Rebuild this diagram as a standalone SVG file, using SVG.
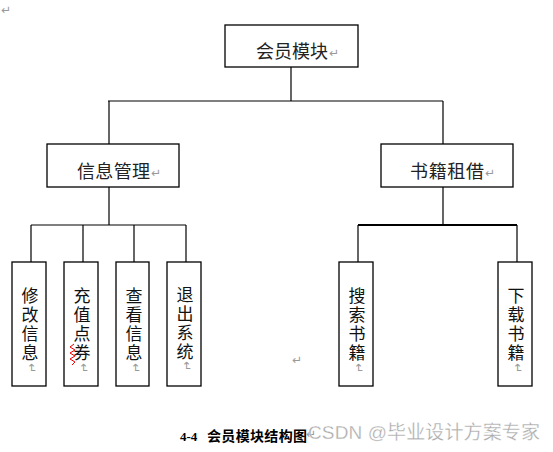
<svg xmlns="http://www.w3.org/2000/svg" width="553" height="452" viewBox="0 0 553 452">
<style>
.box{fill:#fff;stroke:#000;stroke-width:1.3}
.t{font-family:"Noto Sans CJK SC","Noto Sans CJK JP",sans-serif;font-size:17px;fill:#111;writing-mode:vertical-rl;letter-spacing:2px}
.h{font-family:"Noto Sans CJK SC","Noto Sans CJK JP",sans-serif;font-size:18px;fill:#222}
.ret{font-family:"DejaVu Sans",sans-serif;font-size:12px;fill:#999}
.ln{stroke:#000;stroke-width:1.2;fill:none}
</style>
<rect width="553" height="452" fill="#fff"/>
<text class="ret" x="1" y="14">↵</text>
<text class="ret" x="292" y="364">↵</text>

<g id="connectors">
<path class="ln" d="M291 67V101M108 101H443M109 101V144M443 101V144"/>
<path class="ln" d="M109 187V225M31 225H186M31 225V262M83 225V262M134 225V262M186 225V262"/>
<path class="ln" d="M443 187V225M358 262V225M517 225V262"/>
<path d="M358 225H517" stroke="#000" stroke-width="2"/>
</g>

<g id="root">
<rect class="box" x="225" y="25" width="133" height="42"/>
<text class="h" x="256" y="58" textLength="72">会员模块</text>
<text class="ret" x="329" y="57">↵</text>
</g>

<g id="info">
<rect class="box" x="47" y="144" width="132" height="43"/>
<text class="h" x="77" y="178" textLength="73">信息管理</text>
<text class="ret" x="151" y="177">↵</text>
</g>

<g id="book">
<rect class="box" x="381" y="144" width="132" height="43"/>
<text class="h" x="410" y="178" textLength="74">书籍租借</text>
<text class="ret" x="485" y="177">↵</text>
</g>

<g id="leaf1">
<rect class="box" x="12" y="262" width="34" height="124"/>
<text class="t" x="30" y="287">修改信息</text>
<text class="ret" transform="translate(28,363) rotate(90)">↵</text>
</g>

<g id="leaf2">
<rect class="box" x="64" y="262" width="34" height="124"/>
<text class="t" x="82" y="287">充值点券</text>
<polyline points="74,344 70,347 75,350 70,353 75,356 70,359 75,362 72,365" fill="none" stroke="#e00" stroke-width="1"/>
<text class="ret" transform="translate(80,363) rotate(90)">↵</text>
</g>

<g id="leaf3">
<rect class="box" x="116" y="262" width="33" height="124"/>
<text class="t" x="134" y="287">查看信息</text>
<text class="ret" transform="translate(132,363) rotate(90)">↵</text>
</g>

<g id="leaf4">
<rect class="box" x="167" y="262" width="34" height="124"/>
<text class="t" x="185" y="286">退出系统</text>
<text class="ret" transform="translate(183,361) rotate(90)">↵</text>
</g>

<g id="leaf5">
<rect class="box" x="339" y="262" width="34" height="124"/>
<text class="t" x="357" y="287">搜索书籍</text>
<text class="ret" transform="translate(355,363) rotate(90)">↵</text>
</g>

<g id="leaf6">
<rect class="box" x="498" y="262" width="34" height="124"/>
<text class="t" x="516" y="287">下载书籍</text>
<text class="ret" transform="translate(514,363) rotate(90)">↵</text>
</g>

<text x="180" y="441" font-family="'Liberation Serif','Noto Sans CJK SC',serif" font-size="13" font-weight="bold" fill="#000">4-4<tspan x="207" font-family="'Noto Sans CJK SC',sans-serif" font-size="14" textLength="100">会员模块结构图</tspan></text>
<text class="ret" x="306" y="438">↵</text>
<text x="308" y="439" font-family="'Liberation Sans','Noto Sans CJK SC',sans-serif" font-size="19" fill="#aaa" stroke="#fff" stroke-width="0.3" textLength="232">CSDN @毕业设计方案专家</text>
</svg>
